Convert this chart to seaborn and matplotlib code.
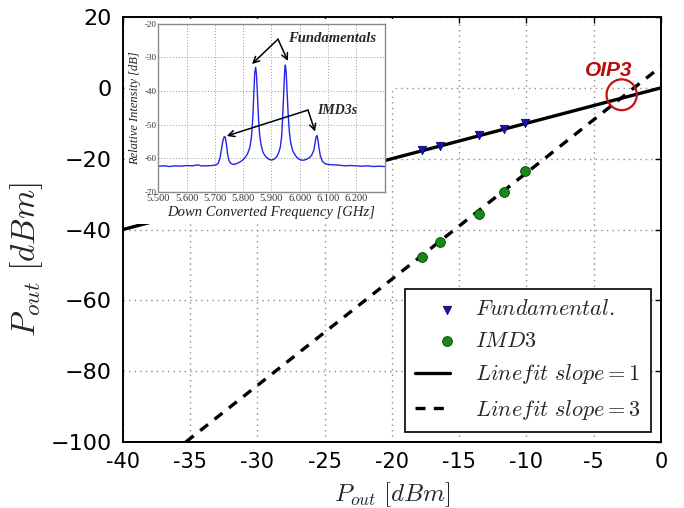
import numpy as np
import pandas as pd
import matplotlib
matplotlib.use("Agg")
import matplotlib.pyplot as plt
import seaborn as sns
from matplotlib.patches import Ellipse
from matplotlib.legend_handler import HandlerPathCollection
from matplotlib.collections import PathCollection

# ---------------- data ----------------
fund_x = [-17.8, -16.4, -13.5, -11.7, -10.1]
fund_y = [-17.6, -16.3, -13.3, -11.6, -10.0]
imd3_x = [-17.8, -16.4, -13.5, -11.7, -10.1]
imd3_y = [-47.7, -43.6, -35.5, -29.3, -23.6]
fit1_x = [-40.0, 0.0]
fit1_y = [-40.0, 0.0]
fit3_x = [-35.33, 0.0]
fit3_y = [-100.0, 6.0]
oip3_x = -2.92
oip3_y = -1.95

xticks = [-40, -35, -30, -25, -20, -15, -10, -5, 0]
xtick_labels = ["-40", "-35", "-30", "-25", "-20", "-15", "-10", "-5", "0"]
yticks = [-100, -80, -60, -40, -20, 0, 20]

spec_freq = [5.500, 5.520, 5.540, 5.560, 5.580, 5.600, 5.620, 5.640, 5.650, 5.670,
             5.690, 5.705, 5.712, 5.718, 5.723, 5.728, 5.733, 5.737, 5.741, 5.745,
             5.750, 5.757, 5.765, 5.775, 5.785, 5.795, 5.805, 5.815, 5.823, 5.829,
             5.834, 5.838, 5.841, 5.844, 5.847, 5.850, 5.854, 5.858, 5.863, 5.870,
             5.880, 5.890, 5.900, 5.910, 5.918, 5.925, 5.931, 5.936, 5.940, 5.944,
             5.947, 5.949, 5.952, 5.955, 5.959, 5.963, 5.968, 5.975, 5.985, 5.995,
             6.005, 6.015, 6.025, 6.035, 6.043, 6.050, 6.054, 6.058, 6.061, 6.064,
             6.068, 6.073, 6.080, 6.090, 6.100, 6.120, 6.140, 6.160, 6.180, 6.200,
             6.220, 6.240, 6.260, 6.280, 6.300]
spec_db = [-62.4, -62.3, -62.5, -62.3, -62.4, -62.2, -62.3, -62.0, -62.3, -62.3,
           -62.2, -62.0, -61.5, -60.0, -57.5, -55.0, -53.6, -53.8, -56.0, -58.8,
           -60.8, -61.6, -61.9, -61.7, -61.3, -60.8, -60.0, -58.8, -57.0, -54.0,
           -48.0, -40.0, -34.5, -33.0, -35.0, -40.5, -48.0, -53.0, -56.0, -58.3,
           -59.6, -60.3, -60.6, -60.3, -59.6, -58.5, -56.8, -53.5, -47.0, -39.0,
           -33.5, -32.3, -34.5, -40.0, -47.0, -52.0, -55.5, -57.8, -59.3, -60.2,
           -60.6, -60.6, -60.3, -59.8, -59.0, -57.5, -55.5, -53.6, -53.3, -54.5,
           -57.0, -59.5, -61.0, -61.7, -61.9, -62.0, -62.1, -62.3, -62.2, -62.3,
           -62.4, -62.3, -62.5, -62.4, -62.5]
inset_xticks = [5.5, 5.6, 5.7, 5.8, 5.9, 6.0, 6.1, 6.2]
inset_xtick_labels = ["5.500", "5.600", "5.700", "5.800", "5.900", "6.000", "6.100", "6.200"]
inset_yticks = [-70, -60, -50, -40, -30, -20]
inset_ytick_labels = ["-70", "-60", "-50", "-40", "-30", "-20"]


class RightMarkerHandler(HandlerPathCollection):
    """Place the single legend marker at the right end of the handle area."""
    def get_xdata(self, legend, xdescent, ydescent, width, height, fontsize):
        x = -xdescent + 0.9 * width
        return [x], [x]


# ---------------- style ----------------
sns.set_style("white")
plt.rcParams["font.family"] = ["DejaVu Sans"]
plt.rcParams["mathtext.fontset"] = "cm"

fig = plt.figure(figsize=(6.84, 5.08), dpi=100)
ax = fig.add_axes([0.1798, 0.1299, 0.7865, 0.8366])

df_f = pd.DataFrame({"x": fund_x, "y": fund_y})
df_i = pd.DataFrame({"x": imd3_x, "y": imd3_y})
df_l1 = pd.DataFrame({"x": fit1_x, "y": fit1_y})
df_l3 = pd.DataFrame({"x": fit3_x, "y": fit3_y})

sns.scatterplot(data=df_f, x="x", y="y", ax=ax, marker="v", color="#1414b4",
                edgecolor="#0a0a60", s=36, linewidth=0.6, zorder=4,
                label=r"$Fundamental.$")
sns.scatterplot(data=df_i, x="x", y="y", ax=ax, marker="o", color="#138a13",
                edgecolor="#0a400a", s=50, linewidth=0.6, zorder=4,
                label=r"$IMD3$")
sns.lineplot(data=df_l1, x="x", y="y", ax=ax, color="black", lw=2.4,
             label=r"$Line fit\ slope=1$", zorder=3)
sns.lineplot(data=df_l3, x="x", y="y", ax=ax, color="black", lw=2.4,
             linestyle=(0, (3, 2.5)), label=r"$Line fit\ slope=3$", zorder=3)

ax.set_xlim(-40, 0)
ax.set_ylim(-100, 20)
ax.set_xticks(xticks)
ax.set_xticklabels(xtick_labels)
ax.set_yticks(yticks)
ax.tick_params(axis="both", direction="in", length=4, width=1, top=True,
               right=True, colors="black", labelsize=15, pad=7)
ax.tick_params(axis="y", labelsize=16, pad=8)
ax.grid(True, linestyle=(0, (1, 3)), color="#8a8a8a", linewidth=1)
for s in ax.spines.values():
    s.set_color("black")
    s.set_linewidth(1.4)
ax.set_xlabel(r"$P_{out}\ [dBm]$", fontsize=18, labelpad=6)
ax.set_ylabel(r"$P_{out}\ [dBm]$", fontsize=24)
ax.yaxis.set_label_coords(-0.145, 0.43)

# OIP3 marker
ax.add_patch(Ellipse((oip3_x, oip3_y), width=2.25, height=8.7, fill=False,
                     edgecolor="#c41010", lw=1.6, zorder=5))
ax.text(-3.9, 5.0, "OIP3", color="#b80c0c", fontsize=15, fontweight="bold",
        fontstyle="italic", family="Liberation Sans", ha="center", va="center")

leg = ax.legend(loc="lower right", bbox_to_anchor=(0.981, 0.0235),
                borderaxespad=0, fontsize=16, frameon=True, fancybox=False,
                framealpha=1, edgecolor="black", handlelength=1.6,
                labelspacing=0.52, borderpad=0.45, handletextpad=1.1,
                scatterpoints=1,
                handler_map={PathCollection: RightMarkerHandler()})
leg.get_frame().set_linewidth(1.2)

# white backdrop for inset
for rect in ([0.1827, 0.559, 0.382, 0.4035], [0.55, 0.82, 0.028, 0.142]):
    bg = fig.add_axes(rect, zorder=5)
    bg.set_facecolor("white")
    bg.set_xticks([])
    bg.set_yticks([])
    for s in bg.spines.values():
        s.set_visible(False)

# inset
ins = fig.add_axes([0.2314, 0.6226, 0.331, 0.3307], zorder=6)
ins.set_facecolor("white")
df_s = pd.DataFrame({"f": spec_freq, "db": spec_db})
sns.lineplot(data=df_s, x="f", y="db", ax=ins, color="#2424e6", lw=1.0)
ins.set_xlim(5.5, 6.3)
ins.set_ylim(-70, -20)
ins.set_xticks(inset_xticks)
ins.set_xticklabels(inset_xtick_labels)
ins.set_yticks(inset_yticks)
ins.set_yticklabels(inset_ytick_labels)
ins.tick_params(axis="both", direction="in", length=2, width=0.6,
                pad=1.5, colors="#333333")
ins.tick_params(axis="x", labelsize=7.5)
ins.tick_params(axis="y", labelsize=6.5)
for lab in ins.get_xticklabels() + ins.get_yticklabels():
    lab.set_family("Liberation Serif")
ins.grid(True, linestyle=(0, (1, 2)), color="#9a9a9a", linewidth=0.7)
for s in ins.spines.values():
    s.set_color("#8a8a8a")
    s.set_linewidth(1.0)
ins.set_xlabel("Down Converted Frequency [GHz]", fontsize=10.5,
               family="Liberation Serif", style="italic", labelpad=2, color="#222222")
ins.set_ylabel("Relative Intensity [dB]", fontsize=9, family="Liberation Serif",
               style="italic", labelpad=2, color="#222222")

arrow_kw = dict(arrowstyle="->", color="black", lw=1.1, mutation_scale=11,
                shrinkA=0, shrinkB=0)
ins.text(5.958, -24.3, "Fundamentals", fontsize=10.5, family="Liberation Serif",
         style="italic", fontweight="bold", ha="left", va="center")
ins.annotate("", xy=(5.831, -32.0), xytext=(5.923, -24.6), arrowprops=arrow_kw)
ins.annotate("", xy=(5.958, -31.1), xytext=(5.923, -24.6), arrowprops=arrow_kw)
ins.text(6.060, -45.7, "IMD3s", fontsize=10, family="Liberation Serif",
         style="italic", fontweight="bold", ha="left", va="center")
ins.annotate("", xy=(5.742, -53.4), xytext=(6.029, -45.7), arrowprops=arrow_kw)
ins.annotate("", xy=(6.054, -52.1), xytext=(6.029, -45.7), arrowprops=arrow_kw)

fig.savefig("out.png", dpi=100)
